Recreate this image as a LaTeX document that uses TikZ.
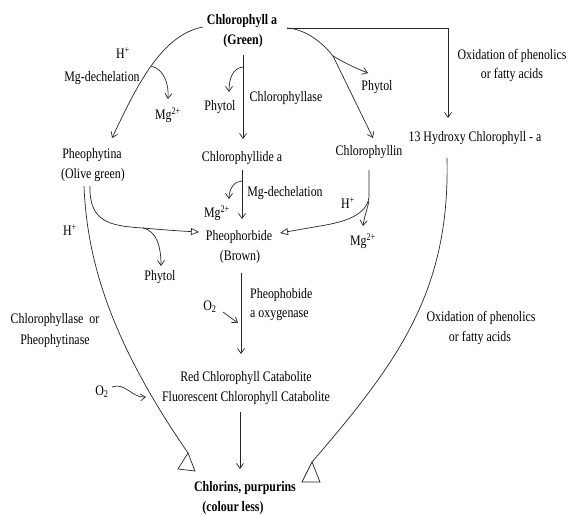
\documentclass[tikz,border=0pt]{standalone}
\usepackage{fontspec}
\setmainfont{Liberation Serif}[FakeStretch=0.82]
\usetikzlibrary{arrows.meta}
\begin{document}
\begin{tikzpicture}[x=1pt,y=-1pt,
  font=\fontsize{14.5}{16}\selectfont,
  lbl/.style={inner sep=0pt, anchor=center},
  bl/.style={inner sep=0pt, anchor=center, font=\fontsize{14.5}{16}\selectfont\bfseries},
  ln/.style={line width=0.7pt, draw=black!85},
  con/.style={ln, -{Straight Barb[length=5pt,width=7pt]}},
  ocon/.style={ln, -{Triangle[open,length=8pt,width=7pt]}},
  tri/.style={ln, fill=white}]
\useasboundingbox (0,0) rectangle (569,514);

% ---- nodes ----
\node[bl] (chla) at (242,21) {Chlorophyll a};
\node[bl] (green) at (243,41) {(Green)};
\node[lbl] (h1) at (123,53) {H\textsuperscript{+}};
\node[lbl] (mgd1) at (102,78) {Mg-dechelation};
\node[lbl] (mg1) at (168,115) {Mg\textsuperscript{2+}};
\node[lbl] (phy1) at (220,107) {Phytol};
\node[lbl] (chlase) at (286,98) {Chlorophyllase};
\node[lbl] (phy2) at (377,87) {Phytol};
\node[lbl] (ox1) at (512,56) {Oxidation of phenolics};
\node[lbl] (ox1b) at (512,75) {or fatty acids};
\node[lbl] (hyd) at (475,138) {13 Hydroxy Chlorophyll - a};
\node[lbl] (pheo) at (92,155) {Pheophytina};
\node[lbl] (olive) at (93,175) {(Olive green)};
\node[lbl] (chlide) at (242,158) {Chlorophyllide a};
\node[lbl] (chlin) at (369,152) {Chlorophyllin};
\node[lbl] (mg2) at (217,213) {Mg\textsuperscript{2+}};
\node[lbl] (mgd2) at (285,193) {Mg-dechelation};
\node[lbl] (h2) at (70,230) {H\textsuperscript{+}};
\node[lbl] (h3) at (348,203) {H\textsuperscript{+}};
\node[lbl] (mg3) at (363,241) {Mg\textsuperscript{2+}};
\node[lbl] (pbide) at (239,237) {Pheophorbide};
\node[lbl] (brown) at (240,257) {(Brown)};
\node[lbl] (phy3) at (160,277) {Phytol};
\node[lbl, anchor=west] (pao1) at (250,295) {Pheophobide};
\node[lbl, anchor=west] (pao2) at (250,315) {a oxygenase};
\node[lbl] (o2a) at (210,307) {O\textsubscript{2}};
\node[lbl] (clase2) at (55,320) {Chlorophyllase\ \ or};
\node[lbl] (pase) at (55,341) {Pheophytinase};
\node[lbl] (ox2) at (481,318) {Oxidation of phenolics};
\node[lbl] (ox2b) at (480,338) {or fatty acids};
\node[lbl] (rcc) at (246,378) {Red Chlorophyll Catabolite};
\node[lbl] (fcc) at (246,398) {Fluorescent Chlorophyll Catabolite};
\node[lbl] (o2b) at (102,392) {O\textsubscript{2}};
\node[bl] (chlor) at (245,488) {Chlorins, purpurins};
\node[bl] (cless) at (233,508) {(colour less)};

% ---- coordinates ----
\coordinate (aL) at (203,27);
\coordinate (aR) at (287,28);
\coordinate (pheoEnd) at (112,138);
\coordinate (b1) at (151,66);
\coordinate (mg1t) at (168,99);
\coordinate (gTop) at (243,55);
\coordinate (gEnd) at (243,139);
\coordinate (g1) at (243,67);
\coordinate (phy1t) at (229,92);
\coordinate (corner) at (448,28);
\coordinate (hydt) at (448,118);
\coordinate (c1) at (333,56);
\coordinate (chlint) at (373,138);
\coordinate (phy2t) at (368,73);
\coordinate (cdTop) at (242,170);
\coordinate (cdEnd) at (242,219);
\coordinate (cd1) at (242,181);
\coordinate (mg2t) at (229,199);
\coordinate (pR) at (90,186);
\coordinate (pL) at (84,186);
\coordinate (pj) at (143,228);
\coordinate (pbL) at (199,232);
\coordinate (phy3t) at (161,266);
\coordinate (lnTop) at (369,170);
\coordinate (ln1) at (369,197);
\coordinate (ln2) at (369,201);
\coordinate (pbR) at (280,233);
\coordinate (mg3t) at (363,226);
\coordinate (pbBot) at (241,273);
\coordinate (pbEnd) at (241,354);
\coordinate (o2as) at (223,312);
\coordinate (o2at) at (238,323);
\coordinate (lEnd) at (188,453);
\coordinate (o2bs) at (112,387);
\coordinate (o2bt) at (146,397);
\coordinate (hTop) at (447,158);
\coordinate (rEnd) at (312,462);
\coordinate (rccBot) at (240,412);
\coordinate (rccEnd) at (240,469);

% ---- connectors ----
\draw[con] (aL) .. controls (160,35) and (135,90) .. (pheoEnd);
\draw[con] (b1) .. controls (164,69) and (169,84) .. (mg1t);
\draw[con] (gTop) -- (gEnd);
\draw[con] (g1) .. controls (233,68) and (229,78) .. (phy1t);
\draw[con] (aR) -- (corner) -- (hydt);
\draw[ln] (aR) .. controls (305,29) and (322,42) .. (c1);
\draw[con] (c1) -- (chlint);
\draw[con] (c1) .. controls (345,63) and (355,68) .. (phy2t);
\draw[con] (cdTop) -- (cdEnd);
\draw[con] (cd1) .. controls (235,181) and (229,188) .. (mg2t);
\draw[ocon] (pR) .. controls (89,222) and (110,226) .. (pj) .. controls (165,230) and (180,231) .. (pbL);
\draw[con] (pj) .. controls (156,231) and (161,245) .. (phy3t);
\draw[ocon] (lnTop) -- (ln1) .. controls (367,215) and (345,222) .. (320,226) -- (pbR);
\draw[con] (ln2) .. controls (367,210) and (364,218) .. (mg3t);
\draw[con] (pbBot) -- (pbEnd);
\draw[con] (o2as) -- (o2at);
\draw[ln] (pL) .. controls (87,260) and (110,340) .. (lEnd);
\draw[con] (o2bs) .. controls (125,382) and (132,398) .. (o2bt);
\draw[ln] (hTop) .. controls (450,290) and (400,360) .. (rEnd);
\draw[con] (rccBot) -- (rccEnd);

% ---- big open triangles ----
\draw[tri] (lEnd) -- (178,469) -- (195,471) -- cycle;
\draw[tri] (rEnd) -- (302,482) -- (320,482) -- cycle;
\end{tikzpicture}
\end{document}
